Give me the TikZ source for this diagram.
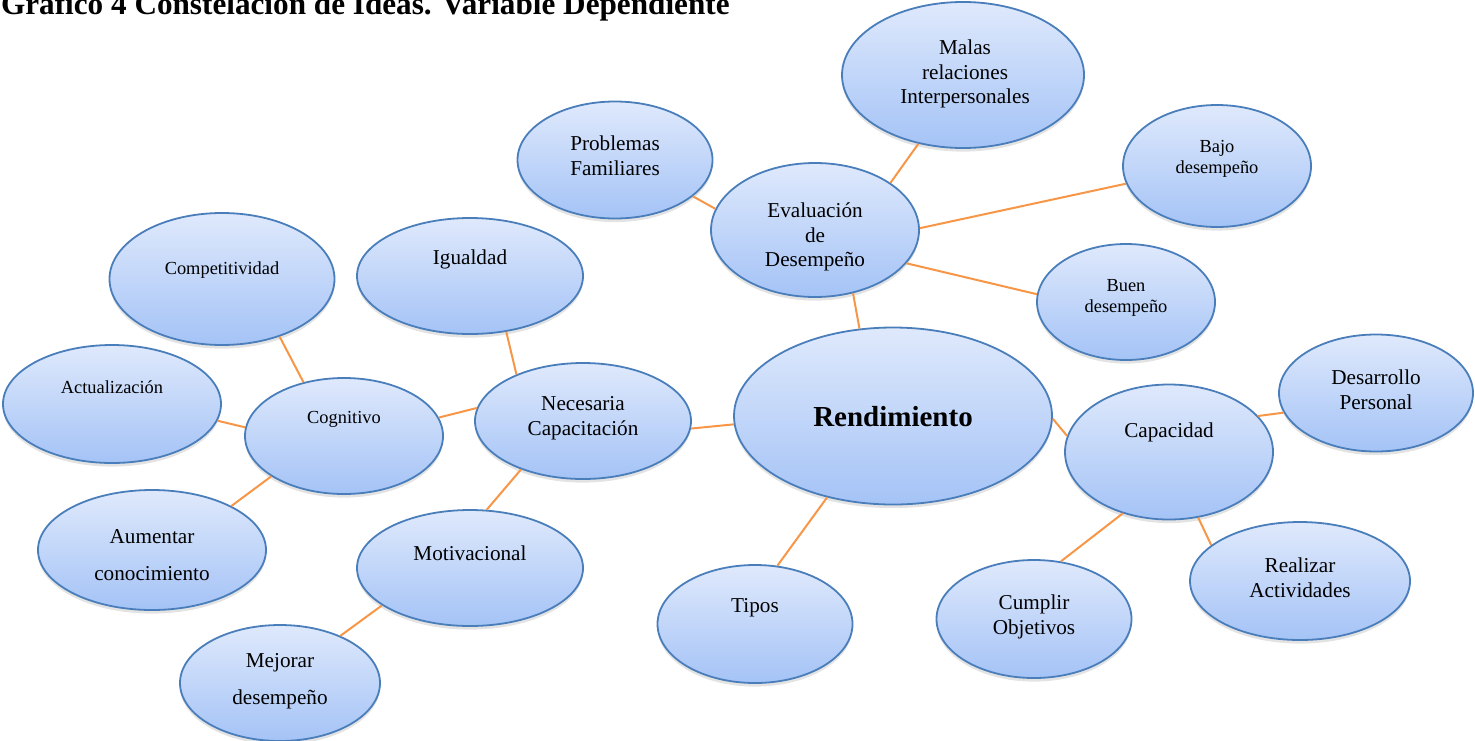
\documentclass[tikz,border=0pt]{standalone}
\usepackage{fontspec}
\setmainfont{Liberation Serif}
\usepackage{tikz}
\usetikzlibrary{shapes, shadings, shadows}
\definecolor{bubtop}{RGB}{223,233,252}
\definecolor{bubbot}{RGB}{164,195,246}
\definecolor{bubline}{RGB}{74,126,187}
\definecolor{conline}{RGB}{247,150,70}

\begin{document}
\begin{tikzpicture}[x=0.5pt, y=-0.5pt, line join=round,
	bub/.style={ellipse, draw=bubline, line width=0.9pt, inner sep=0pt, top color=bubtop, bottom color=bubbot,
		drop shadow={shadow xshift=0pt, shadow yshift=-1.8pt, opacity=0.22}},
	txt/.style={align=center, font=\fontsize{10.6}{12.4}\selectfont},
	smalltxt/.style={align=center, font=\fontsize{9.2}{10.5}\selectfont},
	widetxt/.style={align=center, font=\fontsize{10.6}{18.5}\selectfont},
	con/.style={draw=conline, line width=1pt}]
	\useasboundingbox (0,0) rectangle (1475,740);
	\clip (0,0) rectangle (1475,740);
	\node[anchor=base west, font=\fontsize{15.6}{16}\selectfont\bfseries] (title) at (-6,14) {Grafico 4 Constelación de Ideas. Variable Dependiente};
	% centro
	\node[bub, minimum width=159pt, minimum height=88.5pt, label={[font=\fontsize{14.5}{16}\selectfont\bfseries, yshift=-0.5pt]center:Rendimiento}] (rend) at (893,416) {};
	% evaluacion
	\node[bub, minimum width=104pt, minimum height=67pt, label={[txt, yshift=-3.5pt]center:Evaluación\\de\\Desempeño}] (eval) at (815,230) {};
	\node[bub, minimum width=121pt, minimum height=73pt, label={[txt, yshift=0.5pt, xshift=1pt]center:Malas\\relaciones\\Interpersonales}] (malas) at (963,75) {};
	\node[bub, minimum width=97.5pt, minimum height=58.5pt, label={[txt, yshift=2pt]center:Problemas\\Familiares}] (prob) at (615,160) {};
	\node[bub, minimum width=94pt, minimum height=61pt, label={[smalltxt, yshift=3.75pt]center:Bajo\\desempeño}] (bajo) at (1217,166) {};
	\node[bub, minimum width=89pt, minimum height=58pt, label={[smalltxt, yshift=2.25pt]center:Buen\\desempeño}] (buen) at (1126,302) {};
	% capacitacion
	\node[bub, minimum width=108pt, minimum height=58pt, label={[txt, yshift=1.5pt]center:Necesaria\\Capacitación}] (nec) at (583,421) {};
	\node[bub, minimum width=113pt, minimum height=58pt, label={[txt, yshift=8.5pt]center:Igualdad}] (igual) at (470,276) {};
	\node[bub, minimum width=99pt, minimum height=58pt, label={[smalltxt, yshift=8.5pt]center:Cognitivo}] (cog) at (344,436) {};
	\node[bub, minimum width=112.5pt, minimum height=66pt, label={[smalltxt, yshift=4.5pt]center:Competitividad}] (comp) at (222,279) {};
	\node[bub, minimum width=109pt, minimum height=59pt, label={[smalltxt, yshift=8.5pt]center:Actualización}] (actu) at (112,404) {};
	\node[bub, minimum width=114pt, minimum height=60pt, label={[widetxt, yshift=-2.75pt]center:Aumentar\\conocimiento}] (aum) at (152,550) {};
	\node[bub, minimum width=113pt, minimum height=58pt, label={[txt, yshift=7.5pt]center:Motivacional}] (mot) at (470,568) {};
	\node[bub, minimum width=100pt, minimum height=58pt, label={[widetxt, yshift=0.75pt]center:Mejorar\\desempeño}] (mej) at (280,683) {};
	% tipos y capacidad
	\node[bub, minimum width=97.5pt, minimum height=59pt, label={[txt, yshift=8pt]center:Tipos}] (tipos) at (755,624) {};
	\node[bub, minimum width=104pt, minimum height=67.5pt, label={[txt, yshift=10pt]center:Capacidad}] (cap) at (1169,452) {};
	\node[bub, minimum width=97pt, minimum height=58.5pt, label={[txt, yshift=1.75pt]center:Desarrollo\\Personal}] (desa) at (1376,393) {};
	\node[bub, minimum width=97.5pt, minimum height=59pt, label={[txt, yshift=1.25pt]center:Cumplir\\Objetivos}] (cump) at (1034,619) {};
	\node[bub, minimum width=110pt, minimum height=59pt, label={[txt, yshift=1.75pt]center:Realizar\\Actividades}] (real) at (1300,581) {};
	% conectores
	\draw[con] (rend.111) -- (eval.-59);
	\draw[con] (eval.32) -- (malas.237);
	\draw[con] (eval.168) -- (prob.-25);
	\draw[con] (eval.1) -- (bajo.191);
	\draw[con] (eval.-20) -- (buen.175);
	\draw[con] (rend.183) -- (nec.-4);
	\draw[con] (rend.231) -- (tipos.69);
	\draw[con] (rend.-1) -- (cap.171);
	\draw[con] (cap.22) -- (desa.192);
	\draw[con] (cap.233) -- (cump.65);
	\draw[con] (cap.-66) -- (real.158);
	\draw[con] (nec.145) -- (igual.-57);
	\draw[con] (nec.173) -- (cog.11);
	\draw[con] (nec.218) -- (mot.74);
	\draw[con] (cog.127) -- (comp.-45);
	\draw[con] (cog.175) -- (actu.-9);
	\draw[con] (cog.209) -- (aum.29);
	\draw[con] (mot.203) -- (mej.38);
\end{tikzpicture}
\end{document}
